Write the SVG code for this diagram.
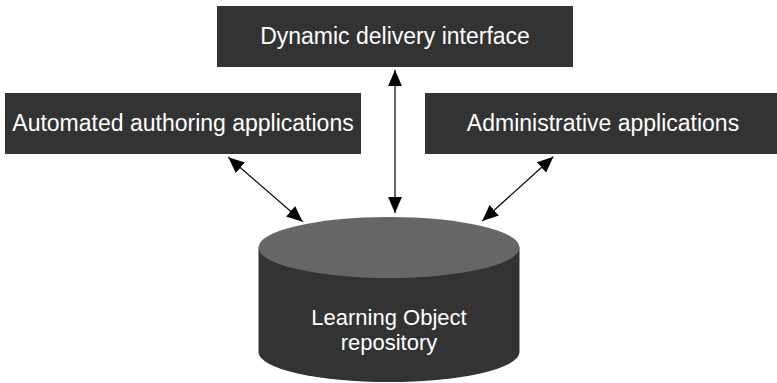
<svg xmlns="http://www.w3.org/2000/svg" width="777" height="383" viewBox="0 0 777 383">
<defs>
<style>
.box{fill:#333333}
.lbl{font-family:"Liberation Sans",Arial,sans-serif;font-size:23px;fill:#ffffff;text-anchor:middle}
.cyl{font-size:22px}
.conn{stroke:#000000;stroke-width:1.2;fill:none;marker-start:url(#ah);marker-end:url(#ah)}
</style>
<marker id="ah" markerUnits="userSpaceOnUse" markerWidth="16" markerHeight="14" refX="15" refY="6.5" orient="auto-start-reverse" viewBox="0 0 15 13">
<path d="M0,0 L15,6.5 L0,13 z" fill="#000000"/>
</marker>
</defs>
<rect width="777" height="383" fill="#ffffff"/>
<g id="connectors">
<line class="conn" x1="395" y1="70" x2="395" y2="213"/>
<line class="conn" x1="228.3" y1="157.3" x2="302.7" y2="221.7"/>
<line class="conn" x1="553.3" y1="156.7" x2="482.3" y2="221"/>
</g>
<g id="dynamic-delivery-interface">
<rect class="box" x="217" y="6" width="356" height="61"/>
<text class="lbl" x="395" y="44">Dynamic delivery interface</text>
</g>
<g id="automated-authoring-applications">
<rect class="box" x="5" y="93" width="356" height="61"/>
<text class="lbl" x="183" y="131">Automated authoring applications</text>
</g>
<g id="administrative-applications">
<rect class="box" x="425" y="93" width="356" height="61"/>
<text class="lbl" x="603" y="131">Administrative applications</text>
</g>
<g id="learning-object-repository">
<path d="M258.5,247.5 L258.5,352 A130.5,30 0 0 0 519.5,352 L519.5,247.5 Z" fill="#333333"/>
<ellipse cx="389" cy="247.5" rx="130.5" ry="30.5" fill="#666666"/>
<text class="lbl cyl" x="389" y="325">Learning Object</text>
<text class="lbl cyl" x="389" y="350">repository</text>
</g>
</svg>
